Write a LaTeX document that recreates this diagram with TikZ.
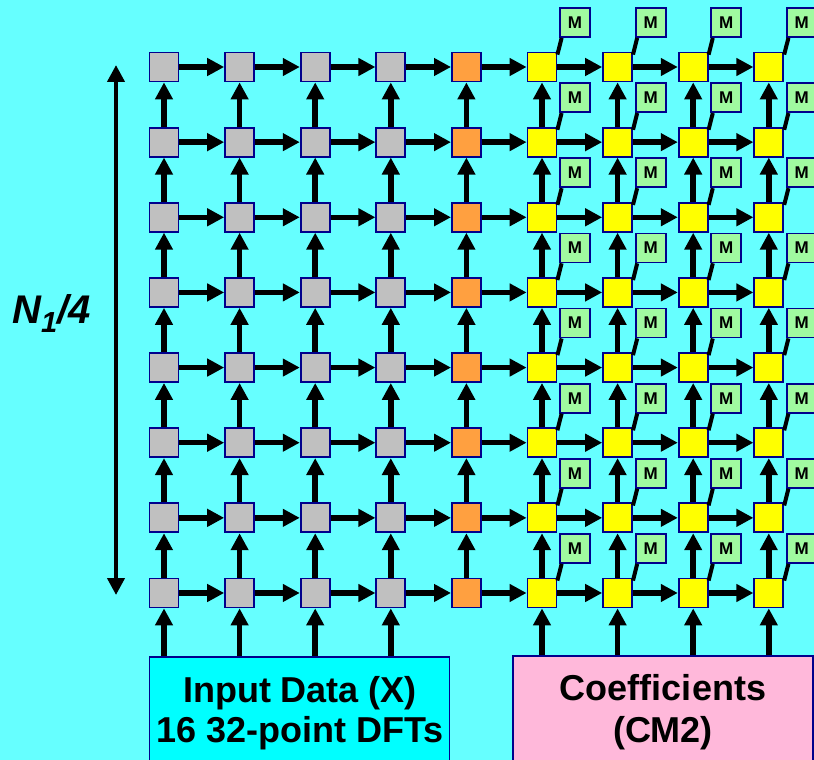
\documentclass[tikz,border=0pt]{standalone}
\usepackage{fontspec}
\setmainfont{Liberation Sans}
\usetikzlibrary{arrows.meta,calc}
\definecolor{bgc}{RGB}{102,255,255}
\definecolor{grayc}{RGB}{192,192,192}
\definecolor{orangec}{RGB}{255,160,64}
\definecolor{yellowc}{RGB}{255,255,0}
\definecolor{mgreen}{RGB}{160,250,160}
\definecolor{pinkc}{RGB}{255,184,218}
\definecolor{cyanc}{RGB}{0,255,255}
\definecolor{navyc}{RGB}{0,0,140}
\tikzset{
  cell/.style={draw=navyc, line width=1.8pt, minimum size=29pt, inner sep=0pt},
  gcell/.style={cell, fill=grayc},
  ocell/.style={cell, fill=orangec},
  ycell/.style={cell, fill=yellowc},
  mbox/.style={draw=navyc, line width=1.8pt, fill=mgreen, minimum width=30pt, minimum height=29pt, inner sep=0pt, font=\fontsize{17}{17}\selectfont\bfseries},
  arr/.style={line width=5.5pt, -{Triangle[length=17pt,width=17pt]}},
  mlink/.style={line width=4pt},
  bigbox/.style={draw=navyc, line width=1.8pt, minimum width=300pt, minimum height=130pt, anchor=north, inner sep=0pt},
  lbl/.style={font=\fontsize{36}{36}\selectfont\bfseries, anchor=base, inner sep=0pt},
}
\begin{document}
\begin{tikzpicture}[x=1pt,y=-1pt]
\fill[bgc] (0,0) rectangle (814,760);
\useasboundingbox (0,0) rectangle (814,760);
% input boxes
\node[bigbox, fill=cyanc] (inp) at (299.5,656) {};
\node[bigbox, fill=pinkc] (coef) at (663,655) {};
\node[lbl] (t1) at (300,702) {Input Data (X)};
\node[lbl] (t2) at (300,742) {16 32-point DFTs};
\node[lbl] (t3) at (663,700) {Coefficients};
\node[lbl] (t4) at (663,742) {(CM2)};
% grid
\foreach \i in {1,...,9}{
  \foreach \j in {1,...,8}{
    \pgfmathsetmacro{\xx}{164+75.6*(\i-1)}
    \pgfmathsetmacro{\yy}{67+75.14*(\j-1)}
    \ifnum\i<5
      \node[gcell] (c-\i-\j) at (\xx,\yy) {};
    \else\ifnum\i=5
      \node[ocell] (c-\i-\j) at (\xx,\yy) {};
    \else
      \node[ycell] (c-\i-\j) at (\xx,\yy) {};
      \node[mbox] (m-\i-\j) at (\xx+33,\yy-44.5) {M};
      \draw[mlink] ([yshift=-3pt]c-\i-\j.north east) -- ([xshift=2.5pt]m-\i-\j.south west);
    \fi\fi
  }
}
% horizontal arrows
\foreach \i [evaluate=\i as \n using int(\i+1)] in {1,...,8}{
  \foreach \j in {1,...,8}{
    \draw[arr] (c-\i-\j.east) -- (c-\n-\j.west);
  }
}
% vertical arrows
\foreach \i in {1,...,9}{
  \foreach \j [evaluate=\j as \u using int(\j-1)] in {2,...,8}{
    \draw[arr] (c-\i-\j.north) -- (c-\i-\u.south);
  }
}
% input arrows
\foreach \i in {1,...,4}{
  \draw[arr] (c-\i-8.south |- inp.north) -- (c-\i-8.south);
}
\foreach \i in {6,...,9}{
  \draw[arr] (c-\i-8.south |- coef.north) -- (c-\i-8.south);
}
% left dimension arrow
\coordinate (dtop) at (116,65);
\coordinate (dbot) at (116,595);
\draw[line width=4pt, {Triangle[length=17pt,width=17pt]}-{Triangle[length=17pt,width=17pt]}] (dtop) -- (dbot);
\node[font=\fontsize{40}{40}\selectfont\bfseries\itshape, anchor=base west, inner sep=0pt] (nlab) at (12,323) {N\raisebox{-9pt}{\fontsize{29}{29}\selectfont 1}/4};
\end{tikzpicture}
\end{document}
